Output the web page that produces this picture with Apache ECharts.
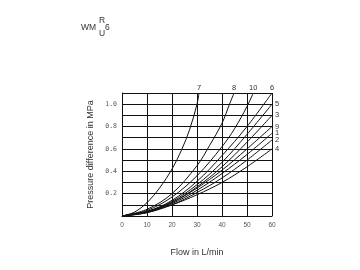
<!DOCTYPE html>
<html><head><meta charset="utf-8">
<script src="https://cdn.jsdelivr.net/npm/echarts@6/dist/echarts.min.js"></script>
<style>html,body{margin:0;padding:0;background:#fff}#c{width:360px;height:270px}</style>
</head><body><div id="c"></div>
<script>
// Flow in L/min (x) and pressure difference in MPa (y), per curve
const curve7  = [[0,0],[5,0.035],[10,0.12],[15,0.25],[20,0.42],[24,0.6],[27,0.77],[30,1.0],[30.8,1.1]];
const curve8  = [[0,0],[10,0.06],[20,0.2],[30,0.45],[35,0.63],[40,0.83],[43,1.0],[44.8,1.1]];
const curve10 = [[0,0],[10,0.05],[20,0.17],[30,0.36],[40,0.62],[45,0.78],[50,0.98],[52.5,1.1]];
const curve6  = [[0,0],[10,0.04],[20,0.14],[30,0.31],[40,0.54],[50,0.8],[60,1.1]];
const curve5  = [[0,0],[10,0.04],[20,0.13],[30,0.28],[40,0.48],[50,0.73],[60,1.0]];
const curve3  = [[0,0],[10,0.035],[20,0.12],[30,0.26],[40,0.44],[50,0.66],[60,0.9]];
const curve9  = [[0,0],[10,0.04],[20,0.12],[30,0.25],[40,0.41],[50,0.6],[60,0.8]];
const curve1  = [[0,0],[10,0.03],[20,0.11],[30,0.23],[40,0.38],[50,0.55],[60,0.74]];
const curve2  = [[0,0],[10,0.03],[20,0.1],[30,0.21],[40,0.34],[50,0.5],[60,0.68]];
const curve4  = [[0,0],[10,0.04],[20,0.1],[30,0.19],[40,0.3],[50,0.44],[60,0.6]];
const curveNames = ['7','8','10','6','5','3','9','1','2','4'];
const curveData = [curve7,curve8,curve10,curve6,curve5,curve3,curve9,curve1,curve2,curve4];
const topLabelled = ['7','8','10','6'];
const xTicks = [0,10,20,30,40,50,60];
const yLabelTicks = ['0.2','0.4','0.6','0.8','1.0'];

const FONT = 'Liberation Sans';
const chart = echarts.init(document.getElementById('c'), null, {renderer:'canvas'});
const series = curveNames.map((name, i) => {
  const d = curveData[i];
  const onTop = topLabelled.includes(name);
  return {
    type:'line', name, smooth:0.35, symbol:'circle', symbolSize:0, showSymbol:true, clip:false,
    lineStyle:{color:'#111', width:1},
    itemStyle:{color:'#111'},
    data: d.map((p, j) => j === d.length - 1 ? {
      value:p,
      label:{show:true, formatter:name, position: onTop ? 'top' : 'right',
        distance: onTop ? 1 : 3, fontSize:7.5, color:'#333', fontFamily:FONT}
    } : p)
  };
});
chart.setOption({
  animation:false,
  backgroundColor:'#fff',
  grid:{left:122, right:88, top:93, bottom:54},
  xAxis:{type:'value', min:0, max:60, interval:10,
    name:'Flow in L/min', nameLocation:'middle', nameGap:32,
    nameTextStyle:{fontSize:9, color:'#333', fontFamily:FONT},
    axisLine:{lineStyle:{color:'#111', width:1}}, axisTick:{show:false},
    axisLabel:{fontSize:6.5, color:'#555', margin:6, fontFamily:FONT,
      formatter:v => xTicks.includes(v) ? String(v) : ''},
    splitLine:{show:true, lineStyle:{color:'#111', width:1}}},
  yAxis:{type:'value', min:0, max:1.1, interval:0.1,
    name:'Pressure difference in MPa', nameLocation:'middle', nameGap:27,
    nameTextStyle:{fontSize:9, color:'#333', fontFamily:FONT},
    axisLine:{lineStyle:{color:'#111', width:1}}, axisTick:{show:false},
    axisLabel:{fontSize:6.5, color:'#555', margin:5, fontFamily:'DejaVu Sans Mono',
      formatter:v => { const s = v.toFixed(1); return yLabelTicks.includes(s) ? s : ''; }},
    splitLine:{show:true, lineStyle:{color:'#111', width:1}}},
  graphic:[
    {type:'text', left:81, top:23, style:{text:'WM', fontSize:8.5, fill:'#333', fontFamily:FONT}},
    {type:'text', left:99, top:16, style:{text:'R', fontSize:8.5, fill:'#333', fontFamily:FONT}},
    {type:'text', left:99, top:29, style:{text:'U', fontSize:8.5, fill:'#333', fontFamily:FONT}},
    {type:'text', left:105, top:23, style:{text:'6', fontSize:8.5, fill:'#333', fontFamily:FONT}}
  ],
  series
});
</script></body></html>
